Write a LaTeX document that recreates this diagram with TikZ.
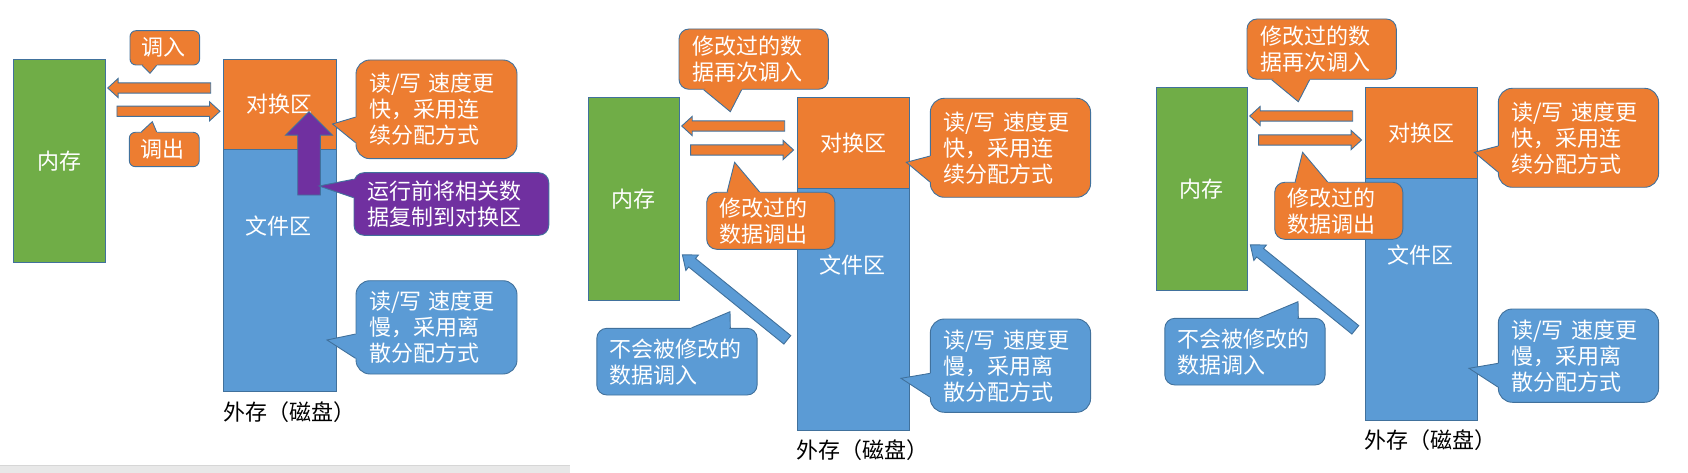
\documentclass[tikz,border=0pt]{standalone}
\usepackage{fontspec}
\setmainfont{Noto Sans CJK SC}
\usetikzlibrary{shapes.arrows,calc}
\definecolor{memgreen}{HTML}{70AD47}
\definecolor{swaporange}{HTML}{ED7D31}
\definecolor{fileblue}{HTML}{5B9BD5}
\definecolor{copypurple}{HTML}{7030A0}
\definecolor{edgeblue}{HTML}{41719C}
\definecolor{bargray}{HTML}{E8E8E8}
\definecolor{barline}{HTML}{D6D6D6}
\begin{document}
\begin{tikzpicture}
[x=1pt,y=-1pt,font=\fontsize{22}{26}\selectfont,
  rectdecorate/.style={draw=edgeblue,line width=0.9pt,text=white,inner sep=0pt},
  calldecorate/.style={draw=edgeblue,line width=0.9pt,text=white,align=left,
    inner xsep=13pt,inner ysep=0pt,rounded corners=#1},
  calldecorate/.default=12pt,
  arrowdecorate/.style={single arrow,draw=edgeblue,line width=0.9pt,
    inner xsep=0pt,single arrow head indent=0pt},
  flatarrow/.style={arrowdecorate,fill=swaporange,minimum height=103,
    minimum width=18.3,inner ysep=4.65pt,single arrow head extend=4.5pt,
    single arrow tip angle=85},
  slantarrow/.style={arrowdecorate,fill=fileblue,minimum height=135,
    minimum width=19,inner ysep=5pt,single arrow head extend=4.5pt,
    single arrow tip angle=77},
  lbl/.style={text=white,inner sep=0pt}]
\useasboundingbox (0,0) rectangle (1688,473);
\fill[bargray] (0,465) rectangle (570,473);
\draw[barline] (0,465.5) -- (570,465.5);
%% first panel
\node (memA) [rectdecorate,fill=memgreen,minimum width=92,minimum height=203] at (59.5,160.8) {内存};
\node (swapA) [rectdecorate,fill=swaporange,minimum width=113,minimum height=90.4] at (279.5,104.5) {对换区};
\node (fileA) [rectdecorate,fill=fileblue,minimum width=113,minimum height=242] at (279.5,270.7) {};
\node (fileAlbl) [lbl] at (278.6,226) {文件区};
\node (diskA) [anchor=west,inner sep=0pt] at (223,412) {外存（磁盘）};
\node (inArrA) [flatarrow,rotate=180] at (162,88) {};
\node (outArrA) [flatarrow] at (165.7,111.3) {};
\node (copyArrA) [arrowdecorate,fill=copypurple,minimum height=83.4,minimum width=46,
  inner ysep=10.85pt,single arrow head extend=12.15pt,single arrow tip angle=90,rotate=90] at (309,159) {};
\node (inA) [calldecorate=6pt,fill=swaporange,inner xsep=11pt,text width=47.6,minimum height=34.3] at (164.8,47.85) {调入};
\node (outA) [calldecorate=6pt,fill=swaporange,inner xsep=11pt,text width=47.9,minimum height=34.4] at (164.25,149.5) {调出};
\node (fastA) [calldecorate=14pt,fill=swaporange,text width=135,minimum height=98.7] at (436.5,109.35)
  {读/写 速度更\\快，采用连\\续分配方式};
\node (copyA) [calldecorate=10pt,fill=copypurple,text width=168.8,minimum height=62.6] at (451.4,204)
  {运行前将相关数\\据复制到对换区};
\node (slowA) [calldecorate=14pt,fill=fileblue,text width=135,minimum height=93.3] at (436.5,327.35)
  {读/写 速度更\\慢，采用离\\散分配方式};
\foreach \n/\ca/\cb/\fa/\fb/\tx/\ty/\col in {inA/south west/south east/0.18/0.383/150/73.3/swaporange,
  outA/north west/north east/0.177/0.392/152.3/121.7/swaporange,
  fastA/north west/south west/0.578/0.835/332.5/124/swaporange,
  copyA/north west/south west/0.11/0.40/319/186/copypurple,
  slowA/north west/south west/0.571/0.829/327/340/fileblue} {
  \coordinate (pa) at ($(\n.\ca)!\fa!(\n.\cb)$);
  \coordinate (pb) at ($(\n.\ca)!\fb!(\n.\cb)$);
  \fill[\col] (\tx,\ty) -- (pa) -- ($(pa)!3pt!(\n.center)$) -- ($(pb)!3pt!(\n.center)$) -- (pb) -- cycle;
  \draw[edgeblue,line width=0.9pt] (pa) -- (\tx,\ty) -- (pb);
}
%% second and third panel
\foreach \p/\dx/\dy in {B/0/0, C/568/-10} {
\begin{scope}[shift={(\dx,\dy)}]
\node (mem\p) [rectdecorate,fill=memgreen,minimum width=91,minimum height=203] at (633.5,199.2) {内存};
\node (swap\p) [rectdecorate,fill=swaporange,minimum width=112.7,minimum height=90.6] at (853.55,143) {对换区};
\node (file\p) [rectdecorate,fill=fileblue,minimum width=112.7,minimum height=241.7] at (853.55,309.15) {};
\node (file\p lbl) [lbl] at (852.6,265) {文件区};
\node (disk\p) [anchor=west,inner sep=0pt] at (796,450) {外存（磁盘）};
\node (inArr\p) [flatarrow,rotate=180] at (736,126) {};
\node (outArr\p) [flatarrow] at (739.3,150) {};
\node (keepArr\p) [slantarrow,rotate=141] at (737.5,299.5) {};
\node (top\p) [calldecorate=10pt,fill=swaporange,text width=123.3,minimum height=60.3] at (753.65,59.15)
  {修改过的数\\据再次调入};
\node (out\p) [calldecorate=10pt,fill=swaporange,text width=102.1,minimum height=57] at (770.75,220.8)
  {修改过的\\数据调出};
\node (fast\p) [calldecorate=14pt,fill=swaporange,text width=134.3,minimum height=99] at (1010.45,147.8)
  {读/写 速度更\\快，采用连\\续分配方式};
\node (slow\p) [calldecorate=14pt,fill=fileblue,text width=134.3,minimum height=93.3] at (1010.45,365.65)
  {读/写 速度更\\慢，采用离\\散分配方式};
\node (keep\p) [calldecorate=10pt,fill=fileblue,text width=134.3,minimum height=66.7] at (676.95,361.65)
  {不会被修改的\\数据调入};
\foreach \n/\ca/\cb/\fa/\fb/\tx/\ty/\col in {top\p/south west/south east/0.167/0.42/730.3/111.7/swaporange,
  out\p/north west/north east/0.162/0.413/734.6/162.3/swaporange,
  fast\p/north west/south west/0.583/0.842/906.3/162.3/swaporange,
  slow\p/north west/south west/0.582/0.833/901/378.3/fileblue,
  keep\p/north west/north east/0.591/0.831/730/311.7/fileblue} {
  \coordinate (pa) at ($(\n.\ca)!\fa!(\n.\cb)$);
  \coordinate (pb) at ($(\n.\ca)!\fb!(\n.\cb)$);
  \fill[\col] (\tx,\ty) -- (pa) -- ($(pa)!3pt!(\n.center)$) -- ($(pb)!3pt!(\n.center)$) -- (pb) -- cycle;
  \draw[edgeblue,line width=0.9pt] (pa) -- (\tx,\ty) -- (pb);
}
\end{scope}
}
\end{tikzpicture}
\end{document}
